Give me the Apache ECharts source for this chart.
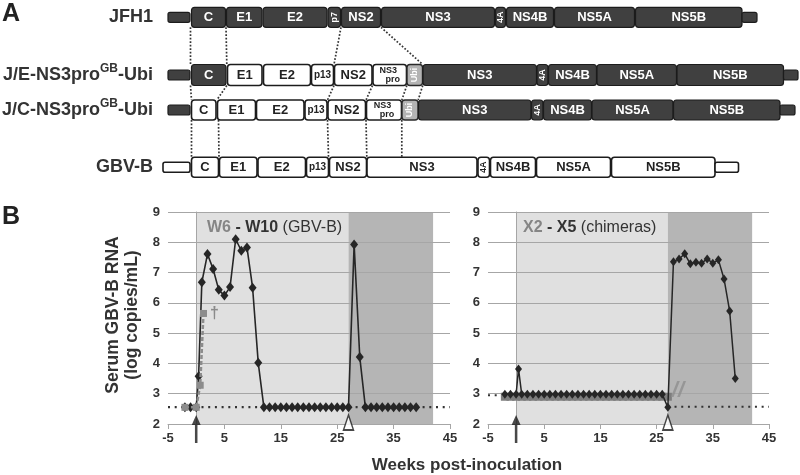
<!DOCTYPE html>
<html><head><meta charset="utf-8">
<script src="https://cdn.jsdelivr.net/npm/echarts@6/dist/echarts.min.js"></script>
<style>html,body{margin:0;padding:0;background:#fff}#c{width:800px;height:475px}</style>
</head><body><div id="c"></div>
<script>
const FONT = '"Liberation Sans", Arial, Helvetica, sans-serif';

// ---------------- Panel A: genome maps ----------------
const constructNames = ['{n|JFH1}', '{n|J/E-NS3pro}{s|GB}{n|-Ubi}', '{n|J/C-NS3pro}{s|GB}{n|-Ubi}', '{n|GBV-B}'];
// [label, start, end, origin]  h = HCV (JFH1), g = GBV-B, u = ubiquitin, ht / gt = UTRs
const jfh1Map = [
  ['', 168, 190, 'ht'], ['C', 191.5, 225.5, 'h'], ['E1', 226.5, 262, 'h'], ['E2', 263, 327, 'h'],
  ['p7', 328, 340.5, 'h'], ['NS2', 341.5, 380.5, 'h'], ['NS3', 381.5, 494.5, 'h'], ['4A', 495.5, 505.5, 'h'],
  ['NS4B', 506.5, 553.5, 'h'], ['NS5A', 554.5, 634.5, 'h'], ['NS5B', 635.5, 742, 'h'], ['', 742, 757, 'ht']
];
const jeMap = [
  ['', 168, 190, 'ht'], ['C', 191.5, 226, 'h'], ['E1', 227.5, 262, 'g'], ['E2', 263.5, 310.5, 'g'],
  ['p13', 311.5, 333.5, 'g'], ['NS2', 334.5, 372, 'g'], ['NS3pro', 373, 406.5, 'g'], ['Ubi', 407, 422.5, 'u'],
  ['NS3', 423, 536.5, 'h'], ['4A', 537, 548, 'h'], ['NS4B', 548.5, 596.5, 'h'], ['NS5A', 597, 676.5, 'h'],
  ['NS5B', 677, 783.5, 'h'], ['', 783.5, 798, 'ht']
];
const jcMap = [
  ['', 168, 190, 'ht'], ['C', 191.5, 216, 'g'], ['E1', 217.5, 255.5, 'g'], ['E2', 256.5, 304, 'g'],
  ['p13', 305, 327, 'g'], ['NS2', 328, 365.5, 'g'], ['NS3pro', 366.5, 401.5, 'g'], ['Ubi', 402, 418, 'u'],
  ['NS3', 418.5, 531, 'h'], ['4A', 531.5, 543, 'h'], ['NS4B', 543.5, 591.5, 'h'], ['NS5A', 592, 673, 'h'],
  ['NS5B', 673.5, 780, 'h'], ['', 780, 795, 'ht']
];
const gbvbMap = [
  ['', 163, 190, 'gt'], ['C', 191.5, 218.5, 'g'], ['E1', 219.5, 257, 'g'], ['E2', 258, 305.5, 'g'],
  ['p13', 306.5, 328.5, 'g'], ['NS2', 329.5, 366.5, 'g'], ['NS3', 367, 477, 'g'], ['4A', 478, 489.5, 'g'],
  ['NS4B', 490.5, 535.5, 'g'], ['NS5A', 536.5, 610.5, 'g'], ['NS5B', 611.5, 715, 'g'], ['', 715, 738.5, 'gt']
];
// dotted correspondences: [pos in upper map, upper row, pos in lower map, lower row]
const linkMap = [
  [190.5, 0, 190.5, 1], [226, 0, 226.8, 1], [341, 0, 334, 1], [381, 0, 422.7, 1],
  [190.5, 1, 191.5, 2], [226.8, 1, 216.8, 2], [334, 1, 327.5, 2], [372.5, 1, 366, 2], [406.8, 1, 401.8, 2], [422.7, 1, 418.2, 2],
  [191.5, 2, 191.5, 3], [218.5, 2, 219, 3], [327.5, 2, 328.5, 3], [366, 2, 366.8, 3], [401.8, 2, 401.8, 3]
];

// ---------------- Panel B: serum GBV-B RNA (log copies/mL) ----------------
const weeksW10 = [-2, -1, 0, 0.43, 1, 2, 3, 4, 5, 6, 7, 8, 9, 10, 11,
  12, 13, 14, 15, 16, 17, 18, 19, 20, 21, 22, 23, 24, 25, 26, 27,
  28, 29, 30, 31, 32, 33, 34, 35, 36, 37, 38, 39];
const rnaW10 = [2.55, 2.55, 2.55, 3.58, 6.68, 7.61, 7.12, 6.43, 6.24, 6.52, 8.1, 7.72, 7.83, 6.5, 4.02,
  2.55, 2.55, 2.55, 2.55, 2.55, 2.55, 2.55, 2.55, 2.55, 2.55, 2.55, 2.55, 2.55, 2.55, 2.55, 2.55,
  7.93, 4.21, 2.55, 2.55, 2.55, 2.55, 2.55, 2.55, 2.55, 2.55, 2.55, 2.55];
const weeksW6 = [-2, 0, 0.71, 1.29];
const rnaW6 = [2.55, 2.55, 3.28, 5.65];

const weeksX2 = [-2, -1, 0, 1, 2, 3, 4, 5, 6, 7, 8, 9, 10, 11, 12, 13, 14, 15, 16, 17, 18, 19, 20, 21, 22, 23, 24, 25, 26, 27];
const rnaX2 = [2.9, 2.9, 2.9, 2.9, 2.9, 2.9, 2.9, 2.9, 2.9, 2.9, 2.9, 2.9, 2.9, 2.9, 2.9,
  2.9, 2.9, 2.9, 2.9, 2.9, 2.9, 2.9, 2.9, 2.9, 2.9, 2.9, 2.9, 2.9, 2.9, 2.9];
const weeksX5 = [-2, -1, 0, 0.43, 1, 2, 3, 4, 5, 6, 7, 8, 9, 10, 11, 12, 13, 14, 15, 16, 17, 18, 19, 20, 21, 22, 23, 24, 25, 26,
  27, 28, 29, 30, 31, 32, 33, 34, 35, 36, 37, 38, 39];
const rnaX5 = [2.98, 2.98, 2.98, 3.82, 2.98, 2.98, 2.98, 2.98, 2.98, 2.98, 2.98, 2.98, 2.98, 2.98, 2.98, 2.98,
  2.98, 2.98, 2.98, 2.98, 2.98, 2.98, 2.98, 2.98, 2.98, 2.98, 2.98, 2.98, 2.98, 2.98,
  2.55, 7.36, 7.45, 7.62, 7.29, 7.34, 7.31, 7.45, 7.31, 7.42, 6.79, 5.73, 3.5];

const lodLeft = [[-5, 2.56], [45, 2.56]];
const lodRightPre = [[-5, 2.95], [-2, 2.95]];
const lodRightPost = [[27, 2.57], [45, 2.57]];
const phases = [[0, 27], [27, 42]];          // weeks of first infection / re-challenge
const inoculationWeek = [[0, 2]];
const rechallengeWeek = [[27, 2]];
const x2Stop = [[28.8, 3.1]];
const xTicks = [-5, 5, 15, 25, 35, 45];

// ---------------- layout / style ----------------
const rowCenter = [17.3, 75, 110, 167.3];
const rowBoxH = [20, 21, 20, 20];
const segStyle = {
  h: {fill: '#404040', stroke: '#1c1c1c', lw: 1.2, text: '#ffffff'},
  ht: {fill: '#404040', stroke: '#1c1c1c', lw: 1.2, text: '#ffffff'},
  g: {fill: '#ffffff', stroke: '#1c1c1c', lw: 1.6, text: '#222222'},
  gt: {fill: '#ffffff', stroke: '#1c1c1c', lw: 1.6, text: '#222222'},
  u: {fill: '#b3b3b3', stroke: '#2a2a2a', lw: 1.4, text: '#ffffff'}
};
const rotatedNames = ['p7', '4A', 'Ubi'];
const phaseColors = ['#e0e0e0', '#b5b5b5'];

const segs = [];
[jfh1Map, jeMap, jcMap, gbvbMap].forEach((m, r) =>
  m.forEach(s => segs.push({row: r, name: s[0], x0: s[1], x1: s[2], type: s[3]})));

function txt(t, x, y, size, fill, rot) {
  return {type: 'text', x: x, y: y, rotation: rot || 0,
    style: {text: t, fill: fill, font: 'bold ' + size + 'px ' + FONT,
      textAlign: 'center', textVerticalAlign: 'middle', align: 'center', verticalAlign: 'middle'}};
}
function renderSeg(params, api) {
  const s = segs[params.dataIndex];
  const tail = s.type === 'ht' || s.type === 'gt';
  const h = tail ? 10 : rowBoxH[s.row];
  const cy = rowCenter[s.row];
  const a = api.coord([s.x0, cy - h / 2]);
  const b = api.coord([s.x1, cy + h / 2]);
  const st = segStyle[s.type];
  const ch = [{type: 'rect', shape: {x: a[0], y: a[1], width: b[0] - a[0], height: b[1] - a[1], r: tail ? 2 : 3},
    style: {fill: st.fill, stroke: st.stroke, lineWidth: st.lw}}];
  const cx = (a[0] + b[0]) / 2, my = (a[1] + b[1]) / 2;
  if (s.name) {
    if (s.name === 'NS3pro') {
      ch.push(txt('NS3', cx - 1.5, my - 4, 9, st.text));
      ch.push(txt('pro', cx + 3, my + 4.5, 9, st.text));
    } else if (rotatedNames.indexOf(s.name) >= 0) {
      ch.push(txt(s.name, cx, my, 9, st.text, Math.PI / 2));
    } else {
      ch.push(txt(s.name, cx, my, s.name === 'p13' ? 10 : 13, st.text));
    }
  }
  return {type: 'group', children: ch};
}
function renderLink(params, api) {
  const l = linkMap[params.dataIndex];
  const a = api.coord([l[0], rowCenter[l[1]] + rowBoxH[l[1]] / 2]);
  const b = api.coord([l[2], rowCenter[l[3]] - rowBoxH[l[3]] / 2]);
  return {type: 'line', shape: {x1: a[0], y1: a[1], x2: b[0], y2: b[1]},
    style: {stroke: '#333', lineWidth: 1.7, lineDash: [1.7, 1.8]}};
}
function renderRowLabel(params, api) {
  const p = api.coord([153, rowCenter[params.dataIndex]]);
  return {type: 'text', x: p[0], y: p[1],
    style: {text: constructNames[params.dataIndex], fill: '#333',
      textAlign: 'right', textVerticalAlign: 'middle', align: 'right', verticalAlign: 'middle',
      rich: {
        n: {fontFamily: FONT, fontWeight: 'bold', fontSize: 18, lineHeight: 24, color: '#333'},
        s: {fontFamily: FONT, fontWeight: 'bold', fontSize: 12, lineHeight: 11, verticalAlign: 'top', color: '#333'}
      }}};
}
function renderPhase(params, api) {
  const cs = params.coordSys;
  const p0 = api.coord([api.value(0), 9]);
  const p1 = api.coord([api.value(1), 2]);
  return {type: 'rect', shape: {x: p0[0], y: cs.y, width: p1[0] - p0[0], height: cs.height},
    style: {fill: phaseColors[params.dataIndex]}};
}
const pairs = (xs, ys) => xs.map((x, i) => [x, ys[i]]);

function xAx(i) {
  return {gridIndex: i, type: 'value', min: -5, max: 45, interval: 10, z: 3,
    axisLine: {show: true, lineStyle: {color: '#a6a6a6', width: 1}},
    axisTick: {show: true, length: 5, lineStyle: {color: '#a6a6a6'}},
    splitLine: {show: false},
    axisLabel: {color: '#333', fontWeight: 'bold', fontSize: 13, margin: 8, fontFamily: FONT,
      formatter: v => (xTicks.indexOf(v) >= 0 ? String(v) : '')}};
}
function yAx(i) {
  return {gridIndex: i, type: 'value', min: 2, max: 9, interval: 1, z: 3,
    axisLine: {show: true, lineStyle: {color: '#a6a6a6', width: 1}},
    axisTick: {show: true, length: 4, lineStyle: {color: '#a6a6a6'}},
    splitLine: {show: true, lineStyle: {color: '#a6a6a6', width: 1}},
    axisLabel: {color: '#333', fontWeight: 'bold', fontSize: 13, margin: 8, fontFamily: FONT}};
}
const arrowPath = 'path://M5 0 L10 10 L6.4 10 L6.4 28 L3.6 28 L3.6 10 L0 10 Z';
function markers(i) {
  return [
    {type: 'scatter', xAxisIndex: i, yAxisIndex: i, data: inoculationWeek, symbol: arrowPath,
      symbolSize: [9, 28], symbolOffset: [0, 5], symbolKeepAspect: false, clip: false, silent: true, z: 10,
      itemStyle: {color: '#1a1a1a'}},
    {type: 'scatter', xAxisIndex: i, yAxisIndex: i, data: rechallengeWeek, symbol: 'triangle',
      symbolSize: [10, 15], symbolOffset: [0, -1.5], clip: false, silent: true, z: 10,
      itemStyle: {color: '#ffffff', borderColor: '#1a1a1a', borderWidth: 1.6}}
  ];
}
function panelTitle(left, a, b, c) {
  return {left: left, top: 215, text: '{g|' + a + '} {k|- ' + b + '} {n|' + c + '}',
    textStyle: {fontSize: 16, fontFamily: FONT, rich: {
      g: {color: '#858585', fontWeight: 'bold', fontSize: 16, fontFamily: FONT},
      k: {color: '#333', fontWeight: 'bold', fontSize: 16, fontFamily: FONT},
      n: {color: '#333', fontWeight: 'normal', fontSize: 16, fontFamily: FONT}}}};
}

const chart = echarts.init(document.getElementById('c'));
const option = {
  animation: false,
  backgroundColor: '#ffffff',
  textStyle: {fontFamily: FONT},
  title: [panelTitle(202, 'W6', 'W10', '(GBV-B)'), panelTitle(518, 'X2', 'X5', '(chimeras)')],
  graphic: [
    {type: 'text', x: 2, y: 2, style: {text: 'A', font: 'bold 25px ' + FONT, fill: '#222'}},
    {type: 'text', x: 2, y: 205, style: {text: 'B', font: 'bold 25px ' + FONT, fill: '#222'}},
    {type: 'text', x: 123, y: 315, rotation: Math.PI / 2,
      style: {text: 'Serum GBV-B RNA\n(log copies/mL)', font: 'bold 17.5px ' + FONT, fill: '#333',
        lineHeight: 19, textAlign: 'center', textVerticalAlign: 'middle', align: 'center', verticalAlign: 'middle'}},
    {type: 'text', x: 467, y: 465,
      style: {text: 'Weeks post-inoculation', font: 'bold 17px ' + FONT, fill: '#333',
        textAlign: 'center', textVerticalAlign: 'middle', align: 'center', verticalAlign: 'middle'}}
  ],
  grid: [
    {left: 0, top: 0, width: 800, height: 475, show: false},
    {left: 168, top: 212, width: 282, height: 212},
    {left: 488, top: 212, width: 281, height: 212}
  ],
  xAxis: [{gridIndex: 0, type: 'value', min: 0, max: 800, show: false}, xAx(1), xAx(2)],
  yAxis: [{gridIndex: 0, type: 'value', min: 0, max: 475, inverse: true, show: false}, yAx(1), yAx(2)],
  series: [
    {type: 'custom', xAxisIndex: 0, yAxisIndex: 0, renderItem: renderLink, clip: false, silent: true, z: 2,
      data: linkMap.map(l => [l[0], rowCenter[l[1]]])},
    {type: 'custom', xAxisIndex: 0, yAxisIndex: 0, renderItem: renderSeg, clip: false, silent: true, z: 3,
      data: segs.map(s => [s.x0, rowCenter[s.row]])},
    {type: 'custom', xAxisIndex: 0, yAxisIndex: 0, renderItem: renderRowLabel, clip: false, silent: true, z: 3,
      data: constructNames.map((n, i) => [153, rowCenter[i]])},

    {type: 'custom', xAxisIndex: 1, yAxisIndex: 1, renderItem: renderPhase, silent: true, z: 1, data: phases},
    {type: 'custom', xAxisIndex: 2, yAxisIndex: 2, renderItem: renderPhase, silent: true, z: 1, data: phases},

    {type: 'line', xAxisIndex: 1, yAxisIndex: 1, data: lodLeft, symbol: 'none', z: 4, silent: true,
      lineStyle: {color: '#333', width: 2.2, type: [2, 4.7]}},
    {type: 'line', xAxisIndex: 2, yAxisIndex: 2, data: lodRightPre, symbol: 'none', z: 4, silent: true,
      lineStyle: {color: '#333', width: 2.2, type: [2, 4.7]}},
    {type: 'line', xAxisIndex: 2, yAxisIndex: 2, data: lodRightPost, symbol: 'none', z: 4, silent: true,
      lineStyle: {color: '#333', width: 2.2, type: [2, 4.7]}},

    {name: 'W10', type: 'line', xAxisIndex: 1, yAxisIndex: 1, data: pairs(weeksW10, rnaW10), z: 5,
      symbol: 'diamond', symbolSize: [8, 10], itemStyle: {color: '#262626'},
      lineStyle: {color: '#262626', width: 1.6}},
    {name: 'W6', type: 'line', xAxisIndex: 1, yAxisIndex: 1, z: 6,
      data: pairs(weeksW6, rnaW6).map((p, i, arr) => i === arr.length - 1
        ? {value: p, label: {show: true, formatter: '\u2020', position: 'right', distance: 3,
            color: '#8a8a8a', fontSize: 16, fontWeight: 'bold'}} : p),
      symbol: 'rect', symbolSize: 7, itemStyle: {color: '#8c8c8c'},
      lineStyle: {color: '#8c8c8c', width: 2.5, type: [4, 2]}},

    {name: 'X2', type: 'line', xAxisIndex: 2, yAxisIndex: 2, data: pairs(weeksX2, rnaX2), z: 5,
      symbol: 'rect', symbolSize: 8, itemStyle: {color: '#7d7d7d'},
      lineStyle: {color: '#7d7d7d', width: 2.5}},
    {name: 'X5', type: 'line', xAxisIndex: 2, yAxisIndex: 2, data: pairs(weeksX5, rnaX5), z: 6,
      symbol: 'diamond', symbolSize: [7, 9], itemStyle: {color: '#262626'},
      lineStyle: {color: '#262626', width: 1.5}},
    {type: 'scatter', xAxisIndex: 2, yAxisIndex: 2, data: x2Stop, symbolSize: 1, clip: false, silent: true, z: 7,
      itemStyle: {color: 'transparent'},
      label: {show: true, position: 'inside', formatter: '//', color: '#8f8f8f', fontSize: 22,
        fontStyle: 'italic', fontWeight: 'bold', fontFamily: FONT}}
  ].concat(markers(1), markers(2))
};
chart.setOption(option);
</script>
</body></html>
